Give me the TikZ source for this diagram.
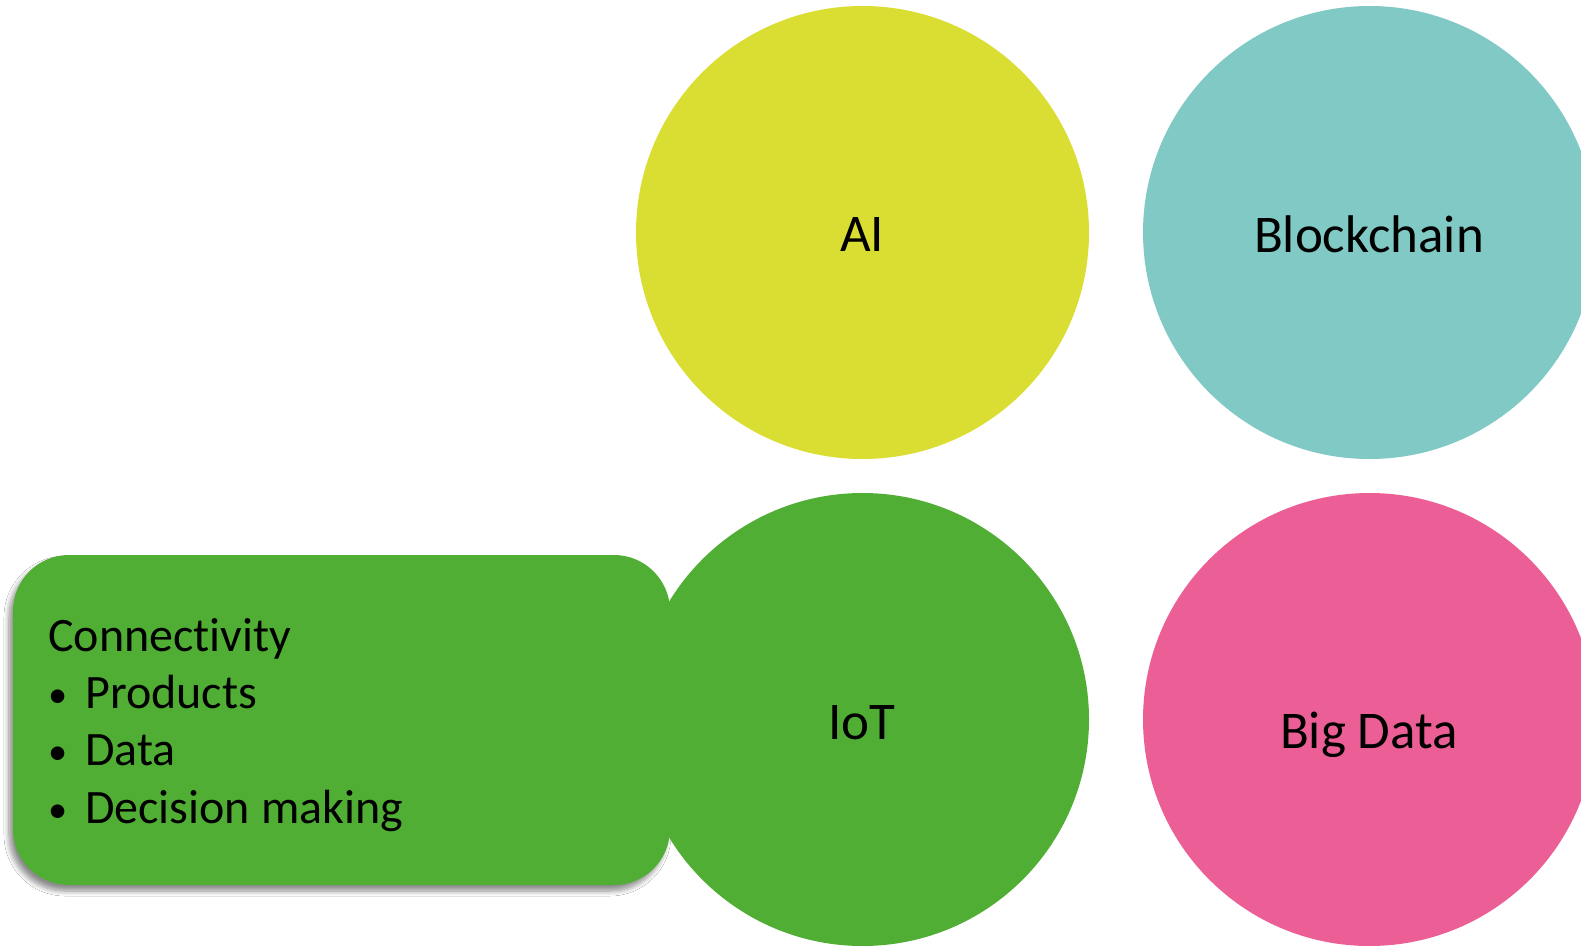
\documentclass[tikz,border=0pt]{standalone}
\usepackage{fontspec}
\setmainfont[Ligatures={NoCommon}]{Carlito}
\usetikzlibrary{shadows.blur}
\definecolor{aiyellow}{RGB}{219,222,50}
\definecolor{bcteal}{RGB}{128,201,197}
\definecolor{iotgreen}{RGB}{80,174,52}
\definecolor{bdpink}{RGB}{236,95,150}
\tikzset{
  bubble/.style={circle, inner sep=0pt, minimum size=453pt, draw=none},
  lbl/.style={anchor=base, inner sep=0pt, font=\fontsize{53}{63}\selectfont, text=black},
  box/.style={draw=none, fill=iotgreen, rounded corners=56pt,
    blur shadow={shadow xshift=-4pt, shadow yshift=-6pt, shadow opacity=45, shadow blur steps=8, shadow blur radius=5pt}},
}
\newcommand{\blt}{\makebox[37pt][l]{\raisebox{1pt}{\scalebox{0.8}{•}}}}
\begin{document}
\begin{tikzpicture}[x=1pt,y=-1pt]
\useasboundingbox (0,0) rectangle (1581,945);
\clip (0,0) rectangle (1581,945);
\fill[white] (0,0) rectangle (1581,945);
\node[bubble, fill=aiyellow] (ai) at (862.5,232.5) {};
\node[bubble, fill=bcteal] (bc) at (1369.5,232.5) {};
\path[box] (13,555) rectangle (670,885);
\coordinate (boxc) at (341,720);
\node[bubble, fill=iotgreen] (iot) at (862.5,719.5) {};
\node[bubble, fill=bdpink] (bd) at (1369.5,719.5) {};
\node[lbl] (ailbl) at (862,251) {AI};
\node[lbl] (bclbl) at (1369,252) {Blockchain};
\node[lbl] (iotlbl) at (862,739) {IoT};
\node[lbl] (bdlbl) at (1369,748) {Big Data};
\node[anchor=base west, inner sep=0pt, align=left, font=\fontsize{48}{57.3}\selectfont] (list) at (48,823)
  {Connectivity\\
   \blt Products\\
   \blt Data\\
   \blt Decision making};
\end{tikzpicture}
\end{document}
